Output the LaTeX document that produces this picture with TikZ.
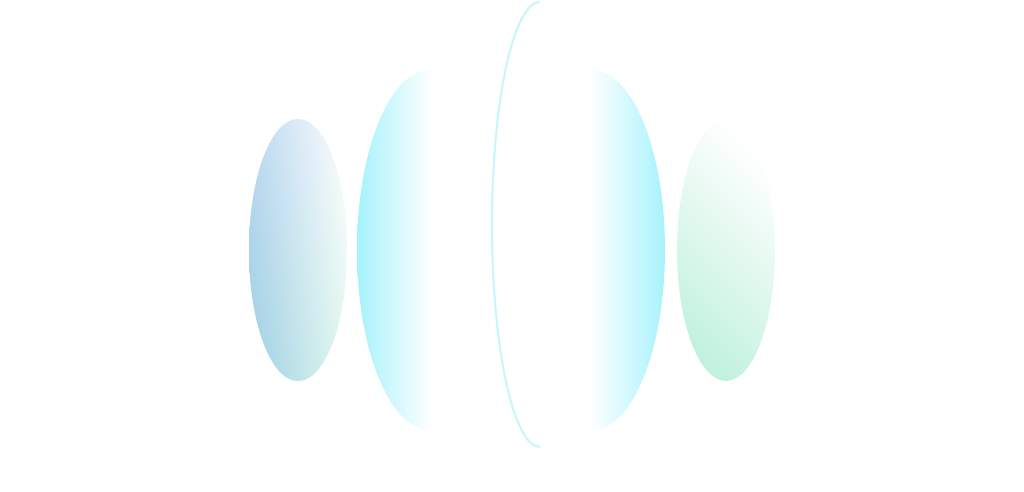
\documentclass[tikz,border=0pt]{standalone}
\begin{document}
\begin{tikzpicture}[x=0.02cm,y=-0.02cm]
\definecolor{lb}{HTML}{8CBCEA}
\definecolor{lg}{HTML}{B8EEDC}
\definecolor{cy}{HTML}{A6F2FC}
\definecolor{rg}{HTML}{C2F2DE}
\definecolor{arc}{HTML}{C8F6FA}
\useasboundingbox (0,0) rectangle (1024,492);
% left small ellipse
\shade[top color=white,bottom color=lg] (298,250) ellipse [x radius=49,y radius=131];
\shade[left color=lb,right color=white,opacity=0.9] (298,250) ellipse [x radius=49,y radius=131];
\shade[top color=white,bottom color=lg,opacity=0.35] (298,250) ellipse [x radius=49,y radius=131];
% right small ellipse
\shade[top color=white,bottom color=rg,shading angle=-45] (726,250) ellipse [x radius=49,y radius=131];
% left large half ellipse
\begin{scope}
\clip (430,250) ellipse [x radius=73,y radius=180];
\shade[left color=cy,right color=white] (357,60) rectangle (432,440);
\end{scope}
% right large half ellipse
\begin{scope}
\clip (592,250) ellipse [x radius=73,y radius=180];
\shade[left color=white,right color=cy] (590,60) rectangle (666,440);
\end{scope}
% thin arc
\draw[arc,line width=1.2pt] (540,2) arc[start angle=270,end angle=90,x radius=48,y radius=222.5];
\end{tikzpicture}
\end{document}
